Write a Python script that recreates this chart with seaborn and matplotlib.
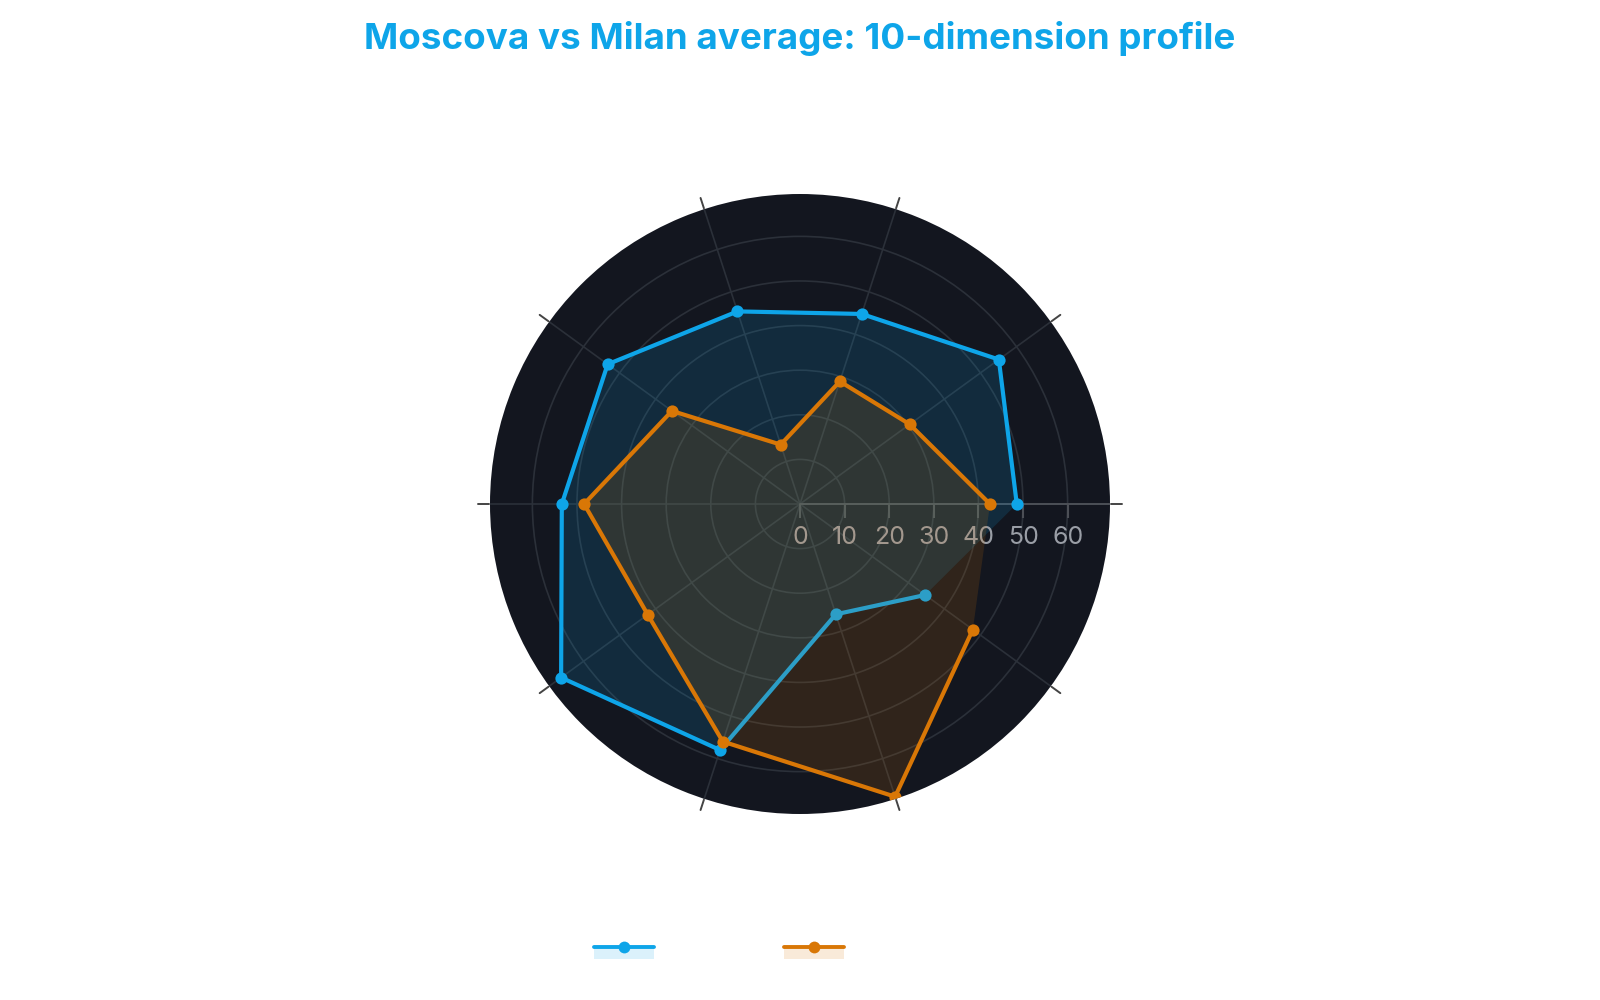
import numpy as np
import matplotlib
matplotlib.use("Agg")
import matplotlib.pyplot as plt
import matplotlib.transforms as mtransforms
from matplotlib.lines import Line2D
from matplotlib.patches import Rectangle
from matplotlib.legend_handler import HandlerBase
import seaborn as sns

# data
dimensions = ["D1", "D2", "D3", "D4", "D5", "D6", "D7", "D8", "D9", "D10"]
moscova = [48.6, 55.1, 44.8, 45.4, 53.3, 53.4, 66.2, 58.0, 26.0, 34.7]
milan_avg = [42.6, 30.4, 28.9, 14.0, 35.5, 48.4, 42.2, 56.0, 69.0, 47.9]
r_ticks = [0, 10, 20, 30, 40, 50, 60]
series_names = ["Moscova", "Milan average"]

BLUE = "#0ea5e9"
ORANGE = "#d97706"
BG = "#13161f"
GRID = "#2b3039"


class FillLineHandler(HandlerBase):
    # line on top edge, translucent fill underneath (like the reference legend)
    def __init__(self, color):
        super().__init__()
        self.color = color

    def create_artists(self, legend, orig_handle, xdescent, ydescent, width, height, fontsize, trans):
        ymid = height / 2 - ydescent
        rect = Rectangle((-xdescent, ymid - height * 0.95), width, height * 0.95,
                         facecolor=self.color, alpha=0.15, lw=0, transform=trans)
        line = Line2D([-xdescent, -xdescent + width], [ymid, ymid], color=self.color,
                      lw=2.8, transform=trans)
        dot = Line2D([-xdescent + width / 2], [ymid], color=self.color, marker='o',
                     markersize=8.5, markeredgewidth=0, transform=trans)
        return [rect, line, dot]


sns.set_theme(style="white")
plt.rcParams['font.family'] = ['Inter', 'DejaVu Sans']

fig = plt.figure(figsize=(16, 10), dpi=100)
ax = fig.add_axes([0.30625, 0.186, 0.3875, 0.62], projection='polar')
ax.set_facecolor(BG)

angles = np.linspace(0, 2 * np.pi, len(dimensions), endpoint=False)
closed_angles = np.append(angles, angles[0])

z = 2
for vals, color, name in [(moscova, BLUE, series_names[0]), (milan_avg, ORANGE, series_names[1])]:
    closed = np.append(vals, vals[0])
    ax.fill(closed_angles, closed, color=color, alpha=0.15, lw=0, zorder=z)
    sns.lineplot(x=closed_angles, y=closed, sort=False, ax=ax, color=color,
                 lw=3.0, marker='o', markersize=8.8, markeredgewidth=0, zorder=z + 1)
    z += 2

rmax = 69.5
ax.set_ylim(0, rmax)
ax.set_yticks(r_ticks[1:])
ax.set_yticklabels([])
ax.set_xticks(angles)
ax.set_xticklabels(dimensions, color='white')
ax.grid(True, color=GRID, lw=1.2)
ax.spines['polar'].set_visible(False)
ax.tick_params(axis='both', length=0, pad=20)

# outer tick marks on each spoke
for a in angles:
    ax.plot([a, a], [rmax * 1.003, rmax * 1.038], color='#444444', lw=1.4, clip_on=False, zorder=1)

# radial axis line at 0 degrees with tick marks and labels underneath
ax.plot([0, 0], [0, rmax], color='#4c4f56', lw=1.4, zorder=1)
ax.plot(np.zeros(len(r_ticks)), r_ticks, ls='none', marker=3, markersize=10,
        color='#4c4f56', markeredgewidth=1.5, zorder=1)
lab_trans = mtransforms.offset_copy(ax.transData, fig=fig, x=0, y=-33, units='dots')
for v in r_ticks:
    ax.text(0, v, str(v), transform=lab_trans, ha='center', va='center',
            color='#9a9ea6', fontsize=18)

fig.suptitle("Moscova vs Milan average: 10-dimension profile", x=0.5, y=0.961, va='center',
             color=BLUE, fontsize=26.5, fontweight='bold')

if ax.get_legend() is not None:
    ax.get_legend().remove()
handles = [object(), object()]
leg = fig.legend(handles, series_names, loc='center', bbox_to_anchor=(0.4915, 0.051), ncol=2,
                 frameon=False, fontsize=13, handlelength=3.3, columnspacing=2.1,
                 labelcolor='white',
                 handler_map={handles[0]: FillLineHandler(BLUE), handles[1]: FillLineHandler(ORANGE)})

fig.savefig("out.png", dpi=100, facecolor='white')
